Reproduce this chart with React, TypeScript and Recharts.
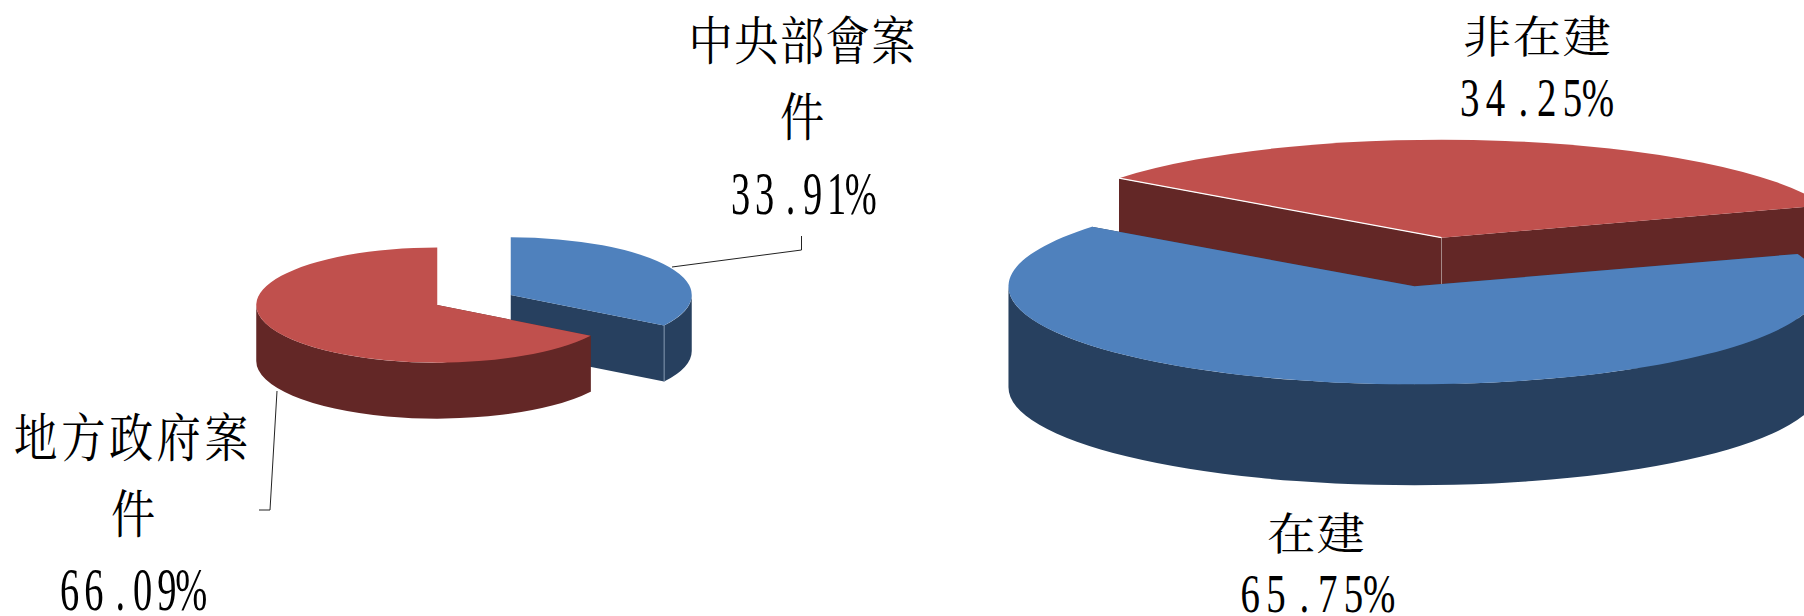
import { Pie, PieChart } from "recharts";

const leftNames = ["中央部會案件", "地方政府案件"];
const leftValues = [33.91, 66.09];
const rightNames = ["非在建", "在建"];
const rightValues = [34.25, 65.75];

const leftColors = ["#4F81BD", "#C0504D"];
const rightColors = ["#C0504D", "#4F81BD"];
const wallColors: Record<string, string> = { "#4F81BD": "#27405F", "#C0504D": "#632726" };

const leftData = leftNames.map((name, i) => ({ name, value: leftValues[i], fill: leftColors[i] }));
const rightData = rightNames.map((name, i) => ({ name, value: rightValues[i], fill: rightColors[i] }));

type TextRow = { text: string; x: number; y: number; width: number; size: number; sx: number; digits?: boolean };

// label rows are hand placed, the source chart wraps them oddly
const labelLayout: Record<string, { rows: (pct: string) => TextRow[]; leader?: string }> = {
  中央部會案件: {
    rows: (pct) => [
      { text: "中央部會案", x: 802, y: 60, width: 227, size: 52, sx: 0.85 },
      { text: "件", x: 800, y: 136, width: 40, size: 52, sx: 0.85 },
      { text: pct, x: 803, y: 214, width: 144, size: 62, sx: 0.62, digits: true },
    ],
    leader: "672,267 801.5,250 801.5,236",
  },
  地方政府案件: {
    rows: (pct) => [
      { text: "地方政府案", x: 131, y: 457, width: 235, size: 52, sx: 0.85 },
      { text: "件", x: 131, y: 533, width: 40, size: 52, sx: 0.85 },
      { text: pct, x: 133, y: 610, width: 146, size: 62, sx: 0.62, digits: true },
    ],
    leader: "277,391 270,510 259,510",
  },
  非在建: {
    rows: (pct) => [
      { text: "非在建", x: 1537, y: 53, width: 148, size: 44, sx: 1.1 },
      { text: pct, x: 1537, y: 116, width: 154, size: 54, sx: 0.72, digits: true },
    ],
  },
  在建: {
    rows: (pct) => [
      { text: "在建", x: 1316, y: 550, width: 98, size: 44, sx: 1.1 },
      { text: pct, x: 1318, y: 612, width: 155, size: 54, sx: 0.72, digits: true },
    ],
  },
};

// start of each character of "00.00%" as a share of the row width
const digitCells = [0, 1 / 6, 0.38, 0.5, 2 / 3, 0.79];

function rowOffsets(r: TextRow) {
  if (r.digits) return digitCells.map((c) => (c * r.width) / r.sx);
  const n = r.text.length;
  if (n === 1) return [0];
  const glyph = r.size * r.sx;
  const adv = (r.width - glyph) / (n - 1);
  return Array.from(r.text, (_, i) => (i * adv) / r.sx);
}

function renderLabel(props: any) {
  const layout = labelLayout[props.name];
  if (!layout) return null;
  const pct = `${Number(props.value).toFixed(2)}%`;
  return (
    <g>
      {layout.leader && <polyline points={layout.leader} fill="none" stroke="#222" strokeWidth={1} />}
      {layout.rows(pct).map((r) => (
        <text
          key={r.text}
          x={rowOffsets(r).join(" ")}
          y={0}
          transform={`translate(${r.x - r.width / 2},${r.y}) scale(${r.sx},1)`}
          fontSize={r.size}
          fill="#000"
          fontFamily={r.digits ? "'Liberation Serif'" : "'Noto Serif CJK TC','Noto Sans CJK TC'"}
        >
          {r.text}
        </text>
      ))}
    </g>
  );
}

// Flattened, extruded and exploded sector, angles come from the Pie
function slice3d(squash: number, depth: number, explodeX: number, explodeY: number) {
  return function Slice(props: any) {
    const { cx, cy, outerRadius, startAngle, endAngle, fill } = props;
    const rad = Math.PI / 180;
    const mid = (startAngle + endAngle) / 2;
    const rx = outerRadius;
    const ry = outerRadius * squash;
    const ax = cx + explodeX * Math.cos(mid * rad);
    const ay = cy - explodeY * squash * Math.sin(mid * rad);
    const pt = (a: number) => [ax + rx * Math.cos(a * rad), ay - ry * Math.sin(a * rad)];
    const wall = wallColors[fill];

    const [sx, sy] = pt(startAngle);
    const [ex, ey] = pt(endAngle);
    const large = startAngle - endAngle > 180 ? 1 : 0;
    const top = `M${ax},${ay} L${sx},${sy} A${rx},${ry} 0 ${large} 1 ${ex},${ey} Z`;

    // front half of the rim only
    const fronts: [number, number][] = [];
    for (const [hi, lo] of [[360, 180], [0, -180], [-360, -540]]) {
      const a = Math.min(startAngle, hi);
      const b = Math.max(endAngle, lo);
      if (a > b) fronts.push([a, b]);
    }
    const rims = fronts.map(([a, b]) => {
      const [x1, y1] = pt(a);
      const [x2, y2] = pt(b);
      return `M${x1},${y1} A${rx},${ry} 0 0 1 ${x2},${y2} L${x2},${y2 + depth} A${rx},${ry} 0 0 0 ${x1},${y1 + depth} Z`;
    });
    const backSlice = Math.sin(mid * rad) > 0.9 && startAngle - endAngle < 180;

    return (
      <g>
        <path d={`M${ax},${ay} L${sx},${sy} L${sx},${sy + depth} L${ax},${ay + depth} Z`} fill={wall} />
        <path d={`M${ax},${ay} L${ex},${ey} L${ex},${ey + depth} L${ax},${ay + depth} Z`} fill={wall} />
        {rims.map((d) => (
          <path key={d} d={d} fill={wall} />
        ))}
        {Math.sin(endAngle * rad) < 0 && (
          <line x1={ex} y1={ey} x2={ex} y2={ey + depth} stroke="#7f93ad" strokeWidth={1} />
        )}
        {backSlice && <line x1={ax} y1={ay} x2={ax} y2={ay + depth} stroke="#a58a88" strokeWidth={1} />}
        <path d={top} fill={fill} />
        {backSlice && <line x1={ax} y1={ay} x2={sx} y2={sy} stroke="#fff" strokeWidth={1.2} />}
      </g>
    );
  };
}

export default function App() {
  return (
    <div style={{ position: "absolute", left: 0, top: 0, width: 1804, height: 616, overflow: "hidden" }}>
      <PieChart width={1804} height={616} margin={{ top: 0, right: 0, bottom: 0, left: 0 }}>
        <Pie
          data={leftData}
          dataKey="value"
          nameKey="name"
          cx={474}
          cy={300}
          outerRadius={181}
          startAngle={90}
          endAngle={-270}
          stroke="none"
          shape={slice3d(0.318, 56, 42, 33)}
          label={renderLabel}
          labelLine={false}
          isAnimationActive={false}
        />
        <Pie
          data={rightData}
          dataKey="value"
          nameKey="name"
          cx={1428}
          cy={262}
          outerRadius={406}
          startAngle={142.6}
          endAngle={-217.4}
          stroke="none"
          shape={slice3d(0.2414, 101, 86, 102)}
          label={renderLabel}
          labelLine={false}
          isAnimationActive={false}
        />
      </PieChart>
    </div>
  );
}
